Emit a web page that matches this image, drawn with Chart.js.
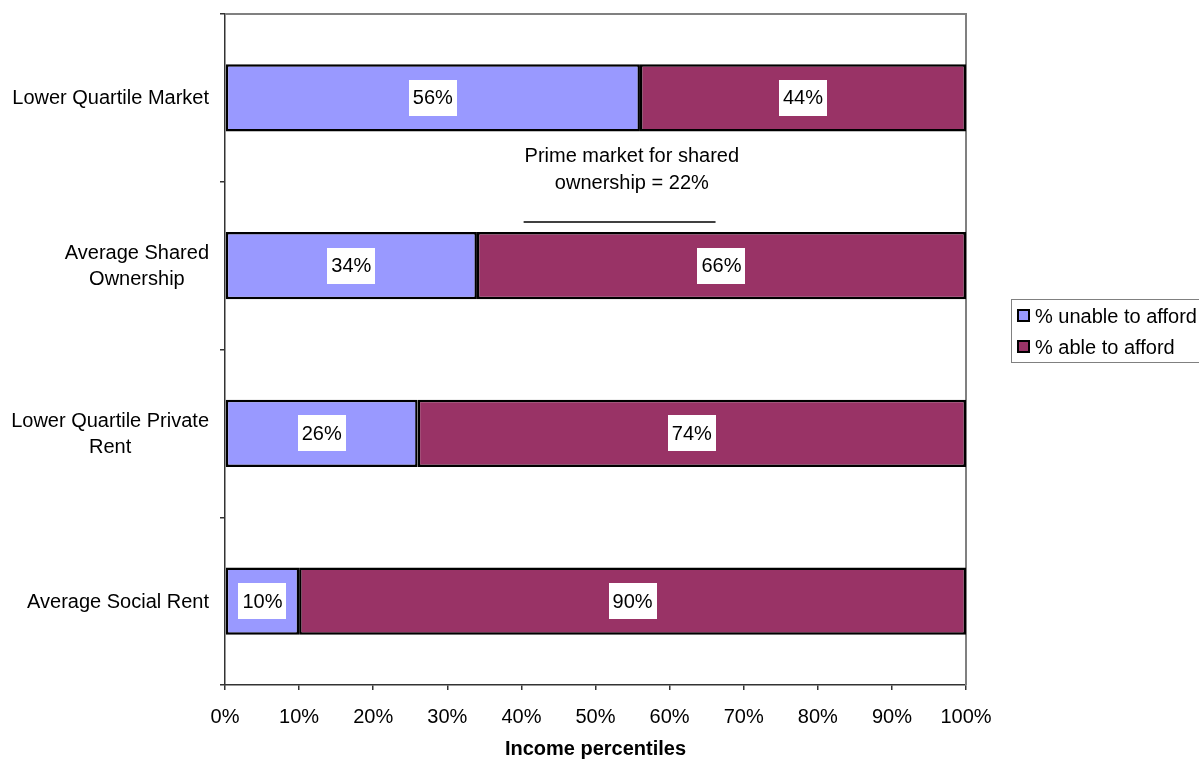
<!DOCTYPE html>
<html>
<head>
<meta charset="utf-8">
<script src="https://cdn.jsdelivr.net/npm/chart.js@4"></script>
<style>
  body { margin: 0; background: #fff; }
  canvas { display: block; }
</style>
</head>
<body>
<canvas id="chart" width="1199" height="759"></canvas>
<script>
// Chart data
const categories = [
    ['Lower Quartile Market'],
    ['Average Shared', 'Ownership'],
    ['Lower Quartile Private', 'Rent'],
    ['Average Social Rent']
];
const unableToAfford = [56, 34, 26, 10];
const ableToAfford = [44, 66, 74, 90];
const seriesNames = ['% unable to afford', '% able to afford'];
const seriesColors = ['#9999FF', '#993366'];
const xTickValues = [0, 10, 20, 30, 40, 50, 60, 70, 80, 90, 100];

// Note between first two bars (x in %, y in category units)
const noteText = ['Prime market for shared', 'ownership = 22%'];
const noteTextAt = { x: 54.9, y: [0.35, 0.51] };
const noteLine = { from: 40.3, to: 66.2, y: 0.74 };

const FONT = "'Liberation Sans', Arial, sans-serif";
Chart.defaults.font.family = FONT;
Chart.defaults.font.size = 20;
Chart.defaults.color = '#000';

// Draws frame, value labels, category labels, note and legend
const chartDecor = {
    id: 'chartDecor',
    beforeDatasetsDraw(chart) {
        const { ctx, chartArea: a } = chart;
        ctx.save();
        ctx.strokeStyle = '#808080';
        ctx.lineWidth = 2;
        ctx.beginPath();
        ctx.moveTo(a.left, a.top);
        ctx.lineTo(a.right, a.top);
        ctx.lineTo(a.right, a.bottom);
        ctx.stroke();
        ctx.restore();
    },
    afterDatasetsDraw(chart) {
        const { ctx } = chart;
        ctx.save();
        ctx.font = '20px ' + FONT;
        ctx.textAlign = 'center';
        ctx.textBaseline = 'middle';
        chart.data.datasets.forEach((ds, di) => {
            chart.getDatasetMeta(di).data.forEach((bar, i) => {
                const text = ds.data[i] + '%';
                const cx = (bar.x + bar.base) / 2;
                const cy = bar.y;
                const w = ctx.measureText(text).width + 8;
                const h = 36;
                ctx.fillStyle = '#fff';
                ctx.fillRect(Math.round(cx - w / 2), Math.round(cy - h / 2), Math.round(w), h);
                ctx.fillStyle = '#000';
                ctx.fillText(text, cx, cy + 1);
            });
        });
        ctx.restore();
    },
    afterDraw(chart) {
        const { ctx, scales: { x, y } } = chart;
        ctx.save();
        ctx.font = '20px ' + FONT;
        ctx.fillStyle = '#000';
        ctx.textBaseline = 'middle';
        ctx.textAlign = 'center';

        // category labels: right-aligned block, lines centred
        const labelRight = 209;
        const lineH = 26;
        chart.data.labels.forEach((lines, i) => {
            const blockW = Math.max(...lines.map(l => ctx.measureText(l).width));
            const cx = labelRight - blockW / 2;
            const cy = y.getPixelForValue(i);
            lines.forEach((l, k) => {
                ctx.fillText(l, cx, cy + (k - (lines.length - 1) / 2) * lineH + 1);
            });
        });

        // note text and line
        const nx = x.getPixelForValue(noteTextAt.x);
        noteText.forEach((t, k) => {
            ctx.fillText(t, nx, y.getPixelForValue(noteTextAt.y[k]));
        });
        const ly = Math.round(y.getPixelForValue(noteLine.y));
        ctx.strokeStyle = '#000';
        ctx.lineWidth = 1.5;
        ctx.beginPath();
        ctx.moveTo(x.getPixelForValue(noteLine.from), ly);
        ctx.lineTo(x.getPixelForValue(noteLine.to), ly);
        ctx.stroke();

        // legend (runs off the right edge like the original)
        const lx = 1011, ly0 = 299, rowH = 31;
        ctx.strokeStyle = '#808080';
        ctx.lineWidth = 1;
        ctx.strokeRect(lx + 0.5, ly0 + 0.5, 220, 63);
        ctx.textAlign = 'left';
        seriesNames.forEach((name, k) => {
            const cy = ly0 + 17 + k * rowH;
            ctx.fillStyle = seriesColors[k];
            ctx.fillRect(lx + 7, cy - 6, 11, 11);
            ctx.strokeStyle = '#000';
            ctx.lineWidth = 2;
            ctx.strokeRect(lx + 7, cy - 6, 11, 11);
            ctx.fillStyle = '#000';
            ctx.fillText(name, lx + 24, cy + 1);
        });
        ctx.restore();
    }
};

new Chart(document.getElementById('chart'), {
    type: 'bar',
    data: {
        labels: categories,
        datasets: [
            {
                label: seriesNames[0],
                data: unableToAfford,
                backgroundColor: seriesColors[0],
                borderColor: '#000',
                borderWidth: 2.5,
                borderSkipped: false
            },
            {
                label: seriesNames[1],
                data: ableToAfford,
                backgroundColor: seriesColors[1],
                borderColor: '#000',
                borderWidth: 2.5,
                borderSkipped: false
            }
        ]
    },
    options: {
        indexAxis: 'y',
        responsive: false,
        animation: false,
        barPercentage: 0.4,
        categoryPercentage: 1,
        layout: { padding: { top: 14, right: 233, left: 0, bottom: 0 } },
        plugins: {
            legend: { display: false },
            tooltip: { enabled: false }
        },
        scales: {
            x: {
                stacked: true,
                min: 0,
                max: 100,
                afterBuildTicks: s => { s.ticks = xTickValues.map(v => ({ value: v })); },
                ticks: {
                    callback: v => v + '%',
                    padding: 15,
                    maxRotation: 0,
                    autoSkip: false,
                    color: '#000'
                },
                grid: { drawOnChartArea: false, tickLength: 5, color: '#333', lineWidth: 1.5 },
                border: { color: '#333', width: 1.5 },
                title: {
                    display: true,
                    text: 'Income percentiles',
                    font: { size: 20, weight: 'bold', lineHeight: 1 },
                    padding: 0,
                    color: '#000'
                },
                afterFit: s => { s.height = 74; }
            },
            y: {
                stacked: true,
                ticks: { display: false },
                grid: { drawOnChartArea: false, tickLength: 5, color: '#333', offset: true, lineWidth: 1.5 },
                border: { color: '#333', width: 1.5 },
                afterFit: s => { s.width = 225; }
            }
        }
    },
    plugins: [chartDecor]
});
</script>
</body>
</html>
